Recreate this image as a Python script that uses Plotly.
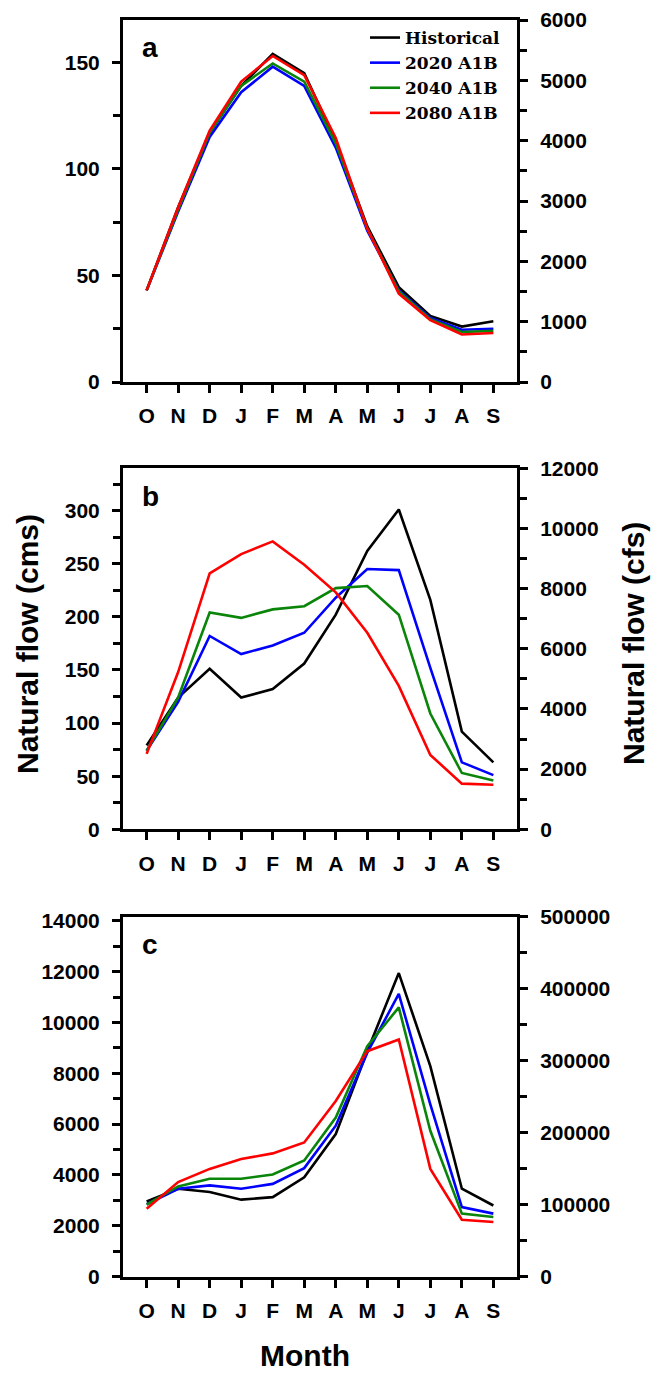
import plotly.graph_objects as go

months = ["O", "N", "D", "J", "F", "M", "A", "M", "J", "J", "A", "S"]
series_names = ["Historical", "2020 A1B", "2040 A1B", "2080 A1B"]
series_colors = ["#000000", "#0000ff", "#0a850a", "#ff0000"]
CFS_PER_CMS = 35.3147

# Panel a (cms)
a_hist = [43, 82, 117, 139, 154, 145, 113, 73, 44.5, 31, 26, 28.5]
a_2020 = [43, 80, 115, 136, 148, 139, 110, 71, 43, 30, 24.5, 25]
a_2040 = [43, 81, 117, 139, 149.5, 141, 112, 72, 42.5, 29.5, 23.5, 24]
a_2080 = [43, 82, 118, 141, 153, 144, 114.5, 72, 41.5, 29, 22.3, 23]

# Panel b (cms)
b_hist = [79, 124, 151, 124, 132, 156, 202, 262, 301, 216, 92, 63]
b_2020 = [74, 120, 182, 165, 173, 185, 218, 245, 244, 152, 63, 51]
b_2040 = [74, 124, 204, 199, 207, 210, 227, 229, 202, 109, 53, 46]
b_2080 = [71, 148, 241, 259, 271, 249, 223, 185, 135, 70, 43, 42]

# Panel c (cms)
c_hist = [2960, 3460, 3330, 3030, 3130, 3910, 5610, 8870, 11940, 8280, 3460, 2800]
c_2020 = [2850, 3460, 3590, 3460, 3650, 4270, 5940, 8810, 11120, 6780, 2740, 2480]
c_2040 = [2830, 3550, 3850, 3850, 4020, 4570, 6260, 9070, 10590, 5740, 2480, 2350]
c_2080 = [2670, 3720, 4240, 4630, 4850, 5280, 6910, 8870, 9330, 4240, 2240, 2150]

panels = [
    dict(label="a", data=[a_hist, a_2020, a_2040, a_2080], left_dtick=50, left_minor=25,
         right_max=6000, right_dtick=1000, right_minor=500),
    dict(label="b", data=[b_hist, b_2020, b_2040, b_2080], left_dtick=50, left_minor=25,
         right_max=12000, right_dtick=2000, right_minor=1000),
    dict(label="c", data=[c_hist, c_2020, c_2040, c_2080], left_dtick=2000, left_minor=1000,
         right_max=500000, right_dtick=100000, right_minor=50000),
]

W, H = 662, 1373
x_dom = [123 / W, 517 / W]
y_boxes = [(20, 382), (468.3, 829.3), (916.7, 1276.7)]

fig = go.Figure()
xs = list(range(len(months)))

tickfont = dict(family="Liberation Sans, Arial", size=21, color="black", weight="bold")
layout = {}
annotations = []

for i, p in enumerate(panels):
    n = i + 1
    xname = "x" if n == 1 else f"x{n}"
    yl = "y" if n == 1 else f"y{n}"
    yr = f"y{n + 3}"
    for s, (name, color) in enumerate(zip(series_names, series_colors)):
        fig.add_trace(go.Scatter(x=xs, y=p["data"][s], mode="lines", name=name,
                                 line=dict(color=color, width=2.6),
                                 xaxis=xname, yaxis=yl, showlegend=(i == 0),
                                 legendrank=s))
    # invisible companion on right (cfs) axis
    fig.add_trace(go.Scatter(x=xs, y=[v * CFS_PER_CMS for v in p["data"][0]], mode="lines",
                             line=dict(color="rgba(0,0,0,0)", width=0), hoverinfo="skip",
                             xaxis=xname, yaxis=yr, showlegend=False))
    top, bot = y_boxes[i]
    ydom = [1 - bot / H, 1 - top / H]
    xkey = "xaxis" if n == 1 else f"xaxis{n}"
    ylkey = "yaxis" if n == 1 else f"yaxis{n}"
    yrkey = f"yaxis{n + 3}"
    layout[xkey] = dict(domain=x_dom, anchor=yl, range=[-0.75, 11.75],
                        tickmode="array", tickvals=xs, ticktext=months,
                        ticks="outside", ticklen=8, tickwidth=2.5, tickcolor="black",
                        showline=True, linewidth=3, linecolor="black", mirror=True,
                        showgrid=False, zeroline=False, tickfont=tickfont,
                        ticklabelstandoff=5)
    left_max = p["right_max"] / CFS_PER_CMS
    layout[ylkey] = dict(domain=ydom, anchor=xname, range=[0, left_max],
                         tick0=0, dtick=p["left_dtick"], ticks="outside", ticklen=8,
                         tickwidth=2.5, tickcolor="black", tickformat="d",
                         minor=dict(dtick=p["left_minor"], ticks="outside", ticklen=7,
                                    tickwidth=2.5, tickcolor="black", showgrid=False),
                         showline=True, linewidth=3, linecolor="black",
                         showgrid=False, zeroline=False, tickfont=tickfont,
                         ticklabelstandoff=8)
    layout[yrkey] = dict(anchor=xname, overlaying=yl, side="right", range=[0, p["right_max"]],
                         tick0=0, dtick=p["right_dtick"], ticks="outside", ticklen=8,
                         tickwidth=2.5, tickcolor="black", tickformat="d",
                         minor=dict(dtick=p["right_minor"], ticks="outside", ticklen=7,
                                    tickwidth=2.5, tickcolor="black", showgrid=False),
                         showline=True, linewidth=3, linecolor="black",
                         showgrid=False, zeroline=False, tickfont=tickfont,
                         ticklabelstandoff=8)
    # panel letter
    annotations.append(dict(text=p["label"], xref="paper", yref="paper",
                            x=150 / W, y=1 - (top + 28) / H, xanchor="center", yanchor="middle",
                            showarrow=False,
                            font=dict(family="Liberation Sans, Arial", size=28, color="black",
                                      weight="bold")))

title_font = dict(family="Liberation Sans, Arial", size=30, color="black", weight="bold")
annotations.append(dict(text="Natural flow (cms)", xref="paper", yref="paper",
                        x=28 / W, y=1 - 644 / H, textangle=-90, showarrow=False,
                        xanchor="center", yanchor="middle", font=title_font))
annotations.append(dict(text="Natural flow (cfs)", xref="paper", yref="paper",
                        x=634 / W, y=1 - 644 / H, textangle=-90, showarrow=False,
                        xanchor="center", yanchor="middle", font=title_font))
annotations.append(dict(text="Month", xref="paper", yref="paper",
                        x=305 / W, y=1 - 1355 / H, showarrow=False,
                        xanchor="center", yanchor="middle", font=title_font))

fig.update_layout(
    **layout,
    annotations=annotations,
    width=W, height=H,
    margin=dict(l=0, r=0, t=0, b=0, autoexpand=False),
    template="none",
    paper_bgcolor="white", plot_bgcolor="white",
    showlegend=True,
    legend=dict(x=365 / W, y=1 - 20 / H, xanchor="left", yanchor="top",
                bgcolor="rgba(0,0,0,0)", borderwidth=0, tracegroupgap=0,
                font=dict(family="DejaVu Serif", size=17, color="black", weight="bold"),
                itemwidth=30),
)

fig.write_html("out.html")
